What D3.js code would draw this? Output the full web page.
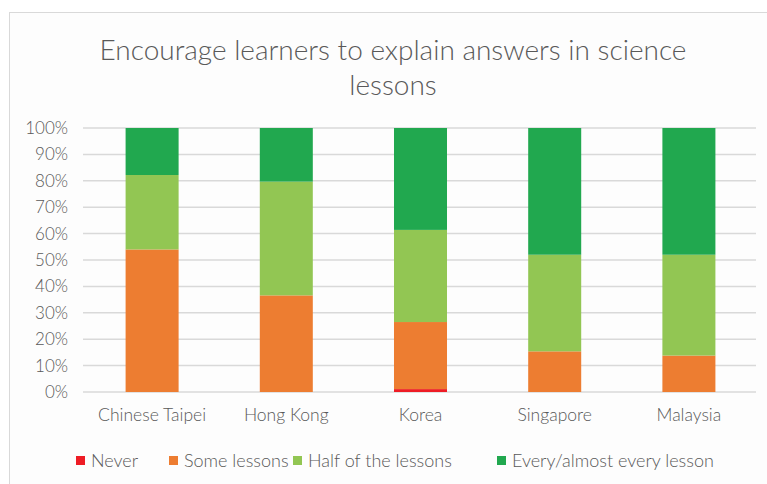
<!DOCTYPE html>
<html lang="en">
<head>
    <meta charset="UTF-8">
    <title>Encourage learners to explain answers</title>
    <script src="https://d3js.org/d3.v7.min.js"></script>
    <style>
        body { margin: 0; background: #fff; }
        svg { display: block; }
        text { font-family: Lato, "Open Sans", sans-serif; font-weight: 300; fill: #595959; }
    </style>
</head>
<body>
    <script>
        const countries = ["Chinese Taipei", "Hong Kong", "Korea", "Singapore", "Malaysia"];
        const never = [0, 0, 1.1, 0, 0];
        const someLessons = [54, 36.6, 25.4, 15.4, 13.8];
        const halfLessons = [28.2, 43.1, 34.9, 36.6, 38.2];
        const everyLesson = [17.8, 20.3, 38.6, 48, 48];
        const seriesNames = ["Never", "Some lessons", "Half of the lessons", "Every/almost every lesson"];
        const seriesColors = ["#ee1c25", "#ed7d31", "#92c653", "#21a84f"];
        const yTicks = [0, 10, 20, 30, 40, 50, 60, 70, 80, 90, 100];

        const width = 767, height = 484;
        const svg = d3.select("body").append("svg")
            .attr("width", width)
            .attr("height", height);

        // chart frame
        svg.append("rect")
            .attr("x", 9.5).attr("y", 12.5)
            .attr("width", 800).attr("height", 500)
            .attr("fill", "#fdfdfd")
            .attr("stroke", "#d9d9d9");

        svg.append("text")
            .attr("x", 393).attr("y", 60)
            .attr("text-anchor", "middle")
            .style("font-size", "28px")
            .text("Encourage learners to explain answers in science");
        svg.append("text")
            .attr("x", 393).attr("y", 95)
            .attr("text-anchor", "middle")
            .style("font-size", "28px")
            .text("lessons");

        const table = countries.map((c, i) => ({
            country: c,
            "Never": never[i],
            "Some lessons": someLessons[i],
            "Half of the lessons": halfLessons[i],
            "Every/almost every lesson": everyLesson[i]
        }));
        const stacked = d3.stack().keys(seriesNames)(table);

        const x = d3.scaleBand()
            .domain(countries)
            .range([85, 756])
            .paddingInner(0.605)
            .paddingOuter(0.3025);
        const y = d3.scaleLinear().domain([0, 100]).range([392, 128]);
        const color = d3.scaleOrdinal().domain(seriesNames).range(seriesColors);

        // gridlines
        svg.append("g").selectAll("line")
            .data(yTicks)
            .join("line")
            .attr("x1", 83).attr("x2", 756)
            .attr("y1", d => y(d)).attr("y2", d => y(d))
            .attr("stroke", "#d9d9d9")
            .attr("stroke-width", 1.5);

        svg.append("g").selectAll("text")
            .data(yTicks)
            .join("text")
            .attr("x", 68)
            .attr("y", d => y(d))
            .attr("dy", "0.35em")
            .attr("text-anchor", "end")
            .style("font-size", "17px")
            .text(d => d + "%");

        svg.append("g").selectAll("rect")
            .data(stacked)
            .join("g")
            .attr("fill", d => color(d.key))
            .selectAll("rect")
            .data(d => d)
            .join("rect")
            .attr("x", d => x(d.data.country))
            .attr("width", x.bandwidth())
            .attr("y", d => y(d[1]))
            .attr("height", d => y(d[0]) - y(d[1]));

        svg.append("g").selectAll("text")
            .data(countries)
            .join("text")
            .attr("x", d => x(d) + x.bandwidth() / 2)
            .attr("y", 421)
            .attr("text-anchor", "middle")
            .style("font-size", "17.5px")
            .text(d => d);

        // legend
        const legendX = [76, 169, 293, 497];
        const legend = svg.append("g").selectAll("g")
            .data(seriesNames)
            .join("g")
            .attr("transform", (d, i) => `translate(${legendX[i]},456)`);
        legend.append("rect")
            .attr("width", 9).attr("height", 9)
            .attr("fill", d => color(d));
        legend.append("text")
            .attr("x", 15).attr("y", 4.5)
            .attr("dy", "0.35em")
            .style("font-size", "18px")
            .text(d => d);
    </script>
</body>
</html>
